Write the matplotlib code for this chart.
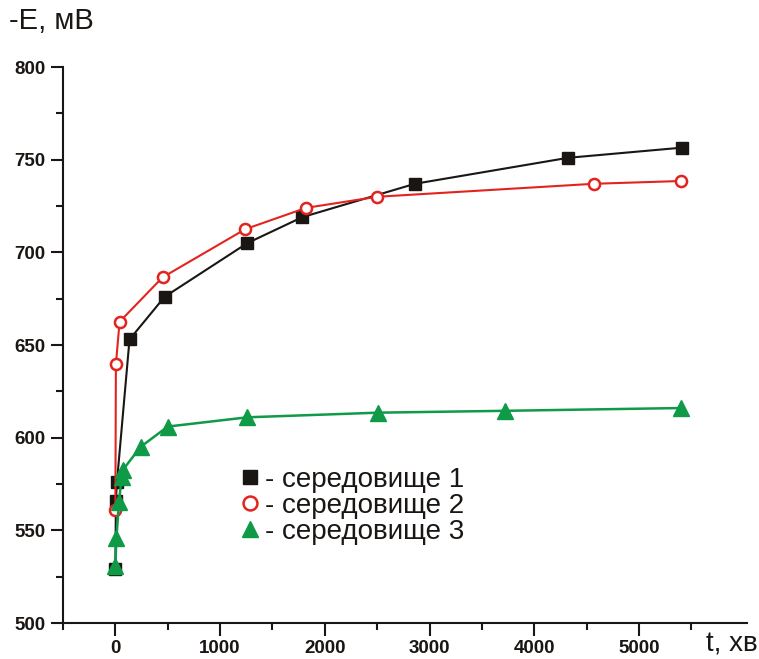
import numpy as np
import matplotlib.pyplot as plt
from matplotlib.lines import Line2D

plt.rcParams['font.family'] = ['Liberation Sans', 'DejaVu Sans']

# середовище 1
t1 = [0, 5, 15, 135, 470, 1260, 1785, 2860, 4320, 5410]
e1 = [529, 566, 576, 653, 676, 705, 719, 737, 751, 756.5]
# середовище 2
t2 = [0, 5, 40, 450, 1240, 1820, 2500, 4570, 5400]
e2 = [561, 639.5, 662.5, 686.5, 712.5, 724, 730, 737, 738.5]
# середовище 3
t3 = [0, 10, 35, 60, 70, 240, 500, 1260, 2510, 3720, 5400]
e3 = [531, 546, 565.5, 579, 582.5, 595, 606, 611, 613.5, 614.5, 616]

c1 = '#1a1614'
c2 = '#e3241e'
c3 = '#0f9a48'

fig = plt.figure(figsize=(7.59, 6.59), dpi=100)
ax = fig.add_axes([0.083, 0.0546, 0.9012, 0.8437])

ax.plot(t1, e1, '-s', color=c1, lw=1.5, ms=8, zorder=3)
ax.plot(t2, e2, '-o', color=c2, lw=1.5, ms=8, mfc='white', mew=1.8, zorder=4)
ax.plot(t3, e3, '-^', color=c3, lw=1.8, ms=11, zorder=5)

ax.set_xlim(-500, 6030)
ax.set_ylim(500, 800)
ax.set_xticks([0, 1000, 2000, 3000, 4000, 5000])
ax.set_xticks(np.arange(-500, 6000, 500), minor=True)
ax.set_yticks(np.arange(500, 801, 50))
ax.set_yticks(np.arange(500, 801, 25), minor=True)

for s in ['top', 'right']:
    ax.spines[s].set_visible(False)
for s in ['left', 'bottom']:
    ax.spines[s].set_linewidth(1.5)
    ax.spines[s].set_color('#1a1614')

ax.tick_params(axis='both', which='major', direction='out', length=9, width=1.5,
               labelsize=13.5, colors='#1a1614')
ax.tick_params(axis='both', which='minor', direction='out', length=5, width=1.5,
               colors='#1a1614')
for lab in ax.get_xticklabels() + ax.get_yticklabels():
    lab.set_fontweight('bold')

fig.text(0.012, 0.968, '-E, мВ', fontsize=21, ha='left', va='center', color='#1a1614')
fig.text(0.998, 0.022, 't, хв', fontsize=20, ha='right', va='center', color='#1a1614')

handles = [
    Line2D([], [], ls='none', marker='s', color=c1, ms=10),
    Line2D([], [], ls='none', marker='o', color=c2, mfc='white', mew=1.8, ms=10),
    Line2D([], [], ls='none', marker='^', color=c3, ms=12),
]
labels = ['- середовище 1', '- середовище 2', '- середовище 3']
leg = fig.legend(handles, labels, loc='upper left', bbox_to_anchor=(0.297, 0.313),
                 frameon=False, fontsize=20, handlelength=0.8, handletextpad=0.12,
                 labelspacing=0.0, borderpad=0)
for txt in leg.get_texts():
    txt.set_color('#1a1614')

fig.savefig('out.png', dpi=100)
